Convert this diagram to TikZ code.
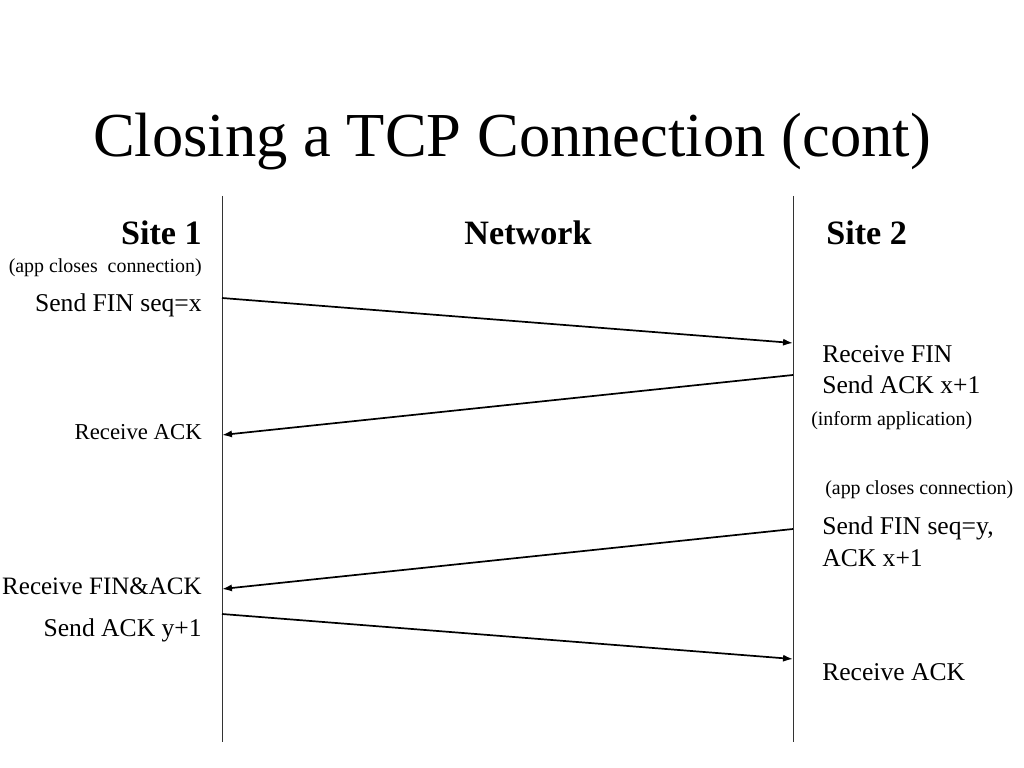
\documentclass[tikz,border=0pt]{standalone}
\usepackage{fontspec}
\setmainfont{Liberation Serif}
\usetikzlibrary{arrows.meta}
\begin{document}
\begin{tikzpicture}[x=0.703125pt,y=-0.703125pt,
  big/.style={inner sep=0pt,font=\fontsize{18}{21}\selectfont},
  small/.style={inner sep=0pt,font=\fontsize{14}{17}\selectfont},
  head/.style={inner sep=0pt,font=\fontsize{24}{28}\selectfont\bfseries},
  msg/.style={line width=1.2pt,-{Latex[length=7pt,width=5pt]}}]
\useasboundingbox (0,0) rectangle (1024,768);
\node[inner sep=0pt,font=\fontsize{44}{52}\selectfont] (title) at (512,142) {Closing a TCP Connection (cont)};
% time lines
\draw[line width=0.7pt,black!80] (222,196)--(222,742) (793,196)--(793,742);
\node[head,anchor=east] (site1) at (202,233) {Site 1};
\node[head] (net) at (528,233) {Network};
\node[head,anchor=west] (site2) at (826,233) {Site 2};
% site 1
\node[small,anchor=east] (close1) at (202,268) {(app closes\ \ connection)};
\node[big,anchor=east] (fin1) at (202,305) {Send FIN seq=x};
\node[font=\fontsize{16}{19}\selectfont,inner sep=0pt,anchor=east] (ack1) at (202,432) {Receive ACK};
\node[font=\fontsize{17.6}{21}\selectfont,inner sep=0pt,anchor=east] (finack1) at (202,586) {Receive FIN\&ACK};
\node[big,anchor=east] (ack1b) at (202,630) {Send ACK y+1};
% site 2
\node[big,anchor=west] (fin2) at (822,354) {Receive FIN};
\node[big,anchor=west] (ack2) at (822,385) {Send ACK x+1};
\node[small,anchor=west] (inform2) at (811,421) {(inform application)};
\node[small,anchor=west] (close2) at (825,490) {(app closes connection)};
\node[big,anchor=west] (fin2b) at (822,528) {Send FIN seq=y,};
\node[big,anchor=west] (ack2b) at (822,558) {ACK x+1};
\node[big,anchor=west] (ack2c) at (822,672) {Receive ACK};
% messages
\coordinate (a1) at (222,298);
\coordinate (b1) at (793,343);
\coordinate (b2) at (793,375);
\coordinate (a2) at (222,435);
\coordinate (b3) at (793,529);
\coordinate (a3) at (222,589);
\coordinate (a4) at (222,614);
\coordinate (b4) at (793,659);
\draw[msg] (a1)--(b1);
\draw[msg] (b2)--(a2);
\draw[msg] (b3)--(a3);
\draw[msg] (a4)--(b4);
\end{tikzpicture}
\end{document}
